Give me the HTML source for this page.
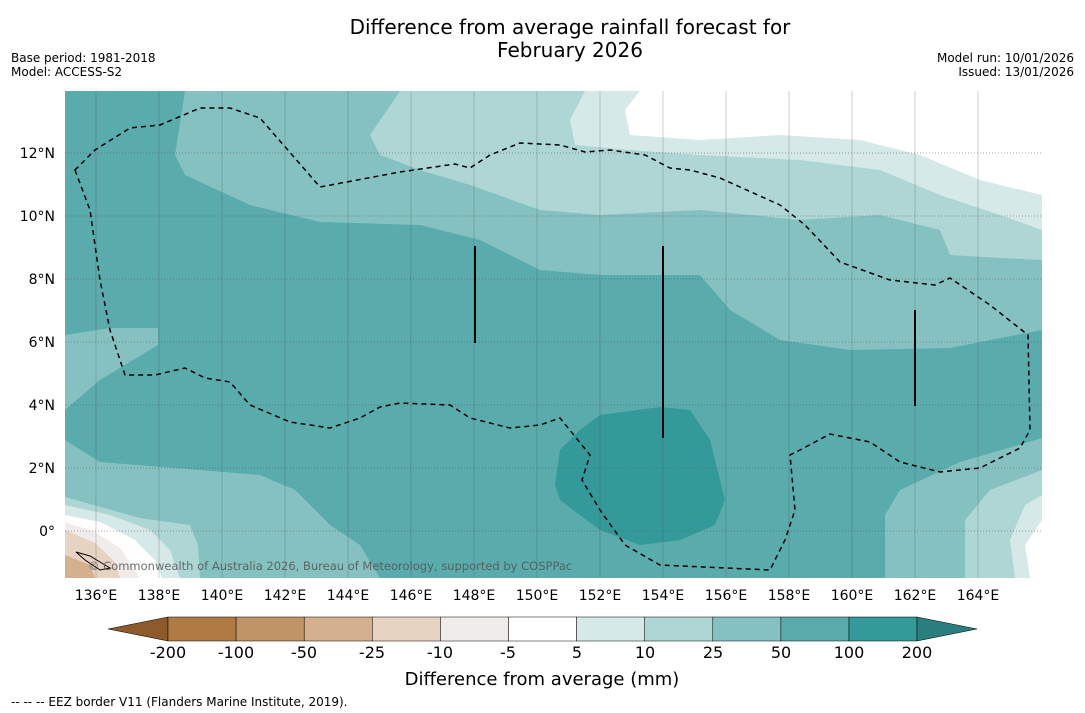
<!DOCTYPE html>
<html><head><meta charset="utf-8"><style>
body{margin:0;background:#fff;font-family:"DejaVu Sans","Liberation Sans",sans-serif;}
svg{display:block;font-family:"DejaVu Sans","Liberation Sans",sans-serif;}
</style></head><body>
<svg width="1085" height="713" viewBox="0 0 1085 713">
<text x="570" y="34" font-size="20" text-anchor="middle">Difference from average rainfall forecast for</text>
<text x="570" y="57" font-size="20" text-anchor="middle">February 2026</text>
<text x="11" y="62" font-size="12">Base period: 1981-2018</text>
<text x="11" y="76" font-size="12">Model: ACCESS-S2</text>
<text x="1074" y="62" font-size="12" text-anchor="end">Model run: 10/01/2026</text>
<text x="1074" y="76" font-size="12" text-anchor="end">Issued: 13/01/2026</text>
<defs><clipPath id="mc"><rect x="65" y="91" width="977" height="487"/></clipPath></defs>
<g clip-path="url(#mc)">
<rect x="65" y="91" width="977" height="487" fill="#5aabab"/>
<path fill="#84c1c0" d="M185,91 L175,155 L185,175 L250,205 L320,222 L420,225 L480,240 L540,270 L600,275 L700,275 L730,310 L780,340 L850,350 L950,348 L1042,330 L1042,91 Z"/>
<path fill="#84c1c0" d="M65,335 L110,328 L158,328 L158,345 L100,380 L65,410 Z"/>
<path fill="#84c1c0" d="M65,440 L100,462 L200,470 L260,475 L295,490 L330,525 L360,545 L380,578 L65,578 Z"/>
<path fill="#84c1c0" d="M885,578 L885,515 L900,490 L960,462 L1042,438 L1042,578 Z"/>
<path fill="#aed6d5" d="M400,91 L370,135 L380,155 L420,170 L470,185 L540,210 L600,215 L700,210 L800,220 L880,215 L940,230 L950,255 L1000,258 L1042,260 L1042,91 Z"/>
<path fill="#aed6d5" d="M965,578 L965,520 L990,490 L1042,470 L1042,578 Z"/>
<path fill="#aed6d5" d="M65,497 L140,518 L190,525 L198,545 L200,578 L65,578 Z"/>
<path fill="#d5e9e8" d="M585,91 L570,120 L575,145 L630,150 L700,155 L800,160 L880,170 L940,195 L1000,215 L1042,230 L1042,91 Z"/>
<path fill="#d5e9e8" d="M1015,578 L1010,540 L1025,505 L1042,495 L1042,578 Z"/>
<path fill="#d5e9e8" d="M65,505 L110,515 L150,530 L170,550 L180,578 L65,578 Z"/>
<path fill="#ffffff" d="M640,91 L625,110 L630,135 L700,140 L780,135 L860,140 L920,155 L980,180 L1042,195 L1042,91 Z"/>
<path fill="#ffffff" d="M1030,578 L1025,545 L1042,520 L1042,578 Z"/>
<path fill="#ffffff" d="M65,515 L100,522 L135,540 L155,560 L162,578 L65,578 Z"/>
<path fill="#f0ecea" d="M65,522 L95,532 L120,548 L140,578 L65,578 Z"/>
<path fill="#e6d3c2" d="M65,530 L95,543 L115,562 L120,578 L65,578 Z"/>
<path fill="#d4b08e" d="M65,555 L90,565 L95,578 L65,578 Z"/>
<path fill="#339999" d="M600,415 L660,407 L690,410 L710,440 L725,500 L715,525 L680,540 L640,545 L600,530 L560,500 L555,485 L560,450 L580,430 Z"/>
<g stroke="#555" stroke-width="0.8" opacity="0.35">
<line x1="96" y1="91" x2="96" y2="578"/><line x1="159" y1="91" x2="159" y2="578"/><line x1="222" y1="91" x2="222" y2="578"/><line x1="285" y1="91" x2="285" y2="578"/><line x1="348" y1="91" x2="348" y2="578"/><line x1="411" y1="91" x2="411" y2="578"/><line x1="474" y1="91" x2="474" y2="578"/><line x1="537" y1="91" x2="537" y2="578"/><line x1="600" y1="91" x2="600" y2="578"/><line x1="663" y1="91" x2="663" y2="578"/><line x1="726" y1="91" x2="726" y2="578"/><line x1="789" y1="91" x2="789" y2="578"/><line x1="852" y1="91" x2="852" y2="578"/><line x1="915" y1="91" x2="915" y2="578"/><line x1="978" y1="91" x2="978" y2="578"/>
</g>
<g stroke="#555" stroke-width="0.8" stroke-dasharray="1,2" opacity="0.7">
<line x1="65" y1="153" x2="1042" y2="153"/><line x1="65" y1="216" x2="1042" y2="216"/><line x1="65" y1="279" x2="1042" y2="279"/><line x1="65" y1="342" x2="1042" y2="342"/><line x1="65" y1="405" x2="1042" y2="405"/><line x1="65" y1="468" x2="1042" y2="468"/><line x1="65" y1="531" x2="1042" y2="531"/>
</g>
<path fill="none" stroke="#000" stroke-width="1.5" stroke-dasharray="5,4" d="M75,170 L90,210 L100,280 L110,330 L125,375 L155,375 L185,368 L205,378 L230,382 L250,405 L290,422 L330,428 L360,418 L380,407 L400,403 L450,405 L470,418 L510,428 L540,425 L560,418 L590,455 L582,480 L600,510 L625,545 L660,565 L770,570 L785,540 L795,510 L790,455 L800,450 L830,434 L870,442 L900,462 L940,472 L980,468 L1020,448 L1030,430 L1028,335 L990,305 L950,278 L935,285 L890,280 L840,262 L805,225 L780,205 L720,178 L690,170 L670,168 L645,155 L610,150 L585,152 L560,145 L520,143 L490,155 L470,168 L455,164 L400,172 L320,187 L260,118 L230,108 L200,108 L160,125 L130,128 L95,150 Z"/>
<g stroke="#000" stroke-width="2">
<line x1="475" y1="246" x2="475" y2="343"/><line x1="663" y1="246" x2="663" y2="438"/><line x1="915" y1="310" x2="915" y2="406"/>
</g>
<path d="M76,552 L90,556 L100,562 L110,568 L100,570 L85,560 Z" fill="none" stroke="#000" stroke-width="1"/>
<text x="88" y="570" font-size="11.5" fill="#555" opacity="0.85">© Commonwealth of Australia 2026, Bureau of Meteorology, supported by COSPPac</text>
</g>
<g font-size="14" text-anchor="middle">
<text x="96" y="600">136°E</text><text x="159" y="600">138°E</text><text x="222" y="600">140°E</text><text x="285" y="600">142°E</text><text x="348" y="600">144°E</text><text x="411" y="600">146°E</text><text x="474" y="600">148°E</text><text x="537" y="600">150°E</text><text x="600" y="600">152°E</text><text x="663" y="600">154°E</text><text x="726" y="600">156°E</text><text x="789" y="600">158°E</text><text x="852" y="600">160°E</text><text x="915" y="600">162°E</text><text x="978" y="600">164°E</text>
</g>
<g font-size="14" text-anchor="end">
<text x="55" y="158">12°N</text><text x="55" y="221">10°N</text><text x="55" y="284">8°N</text><text x="55" y="347">6°N</text><text x="55" y="410">4°N</text><text x="55" y="473">2°N</text><text x="55" y="536">0°</text>
</g>
<g stroke="#000" stroke-width="0.5">
<polygon points="108,629 168,617 168,641" fill="#8c5a2b"/>
<rect x="168" y="617" width="68.1" height="24" fill="#b07a45"/>
<rect x="236.1" y="617" width="68.1" height="24" fill="#c19468"/>
<rect x="304.2" y="617" width="68.1" height="24" fill="#d4b08e"/>
<rect x="372.3" y="617" width="68.1" height="24" fill="#e6d3c2"/>
<rect x="440.4" y="617" width="68.1" height="24" fill="#f0ecea"/>
<rect x="508.5" y="617" width="68.1" height="24" fill="#ffffff"/>
<rect x="576.6" y="617" width="68.1" height="24" fill="#d5e9e8"/>
<rect x="644.7" y="617" width="68.1" height="24" fill="#aed6d5"/>
<rect x="712.8" y="617" width="68.1" height="24" fill="#84c1c0"/>
<rect x="780.9" y="617" width="68.1" height="24" fill="#5aabab"/>
<rect x="849" y="617" width="68" height="24" fill="#339999"/>
<polygon points="917,617 977,629 917,641" fill="#2a7f7e"/>
</g>
<g font-size="16" text-anchor="middle">
<text x="168" y="658">-200</text><text x="236" y="658">-100</text><text x="304" y="658">-50</text><text x="372" y="658">-25</text><text x="440" y="658">-10</text><text x="508" y="658">-5</text><text x="577" y="658">5</text><text x="645" y="658">10</text><text x="713" y="658">25</text><text x="781" y="658">50</text><text x="849" y="658">100</text><text x="917" y="658">200</text>
</g>
<text x="542" y="685" font-size="18" text-anchor="middle">Difference from average (mm)</text>
<text x="11" y="706" font-size="12">--  --  -- EEZ border V11 (Flanders Marine Institute, 2019).</text>
</svg>
</body></html>
